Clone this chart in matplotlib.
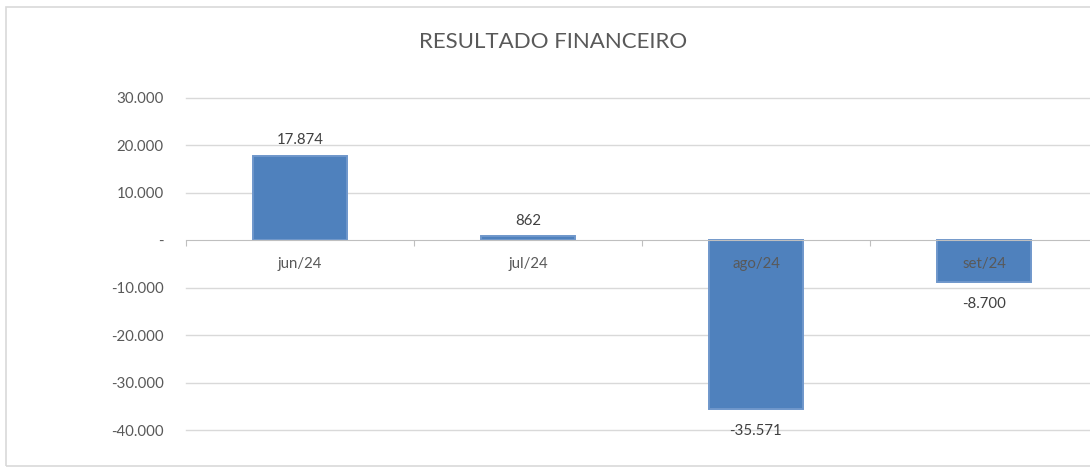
import matplotlib.pyplot as plt
from matplotlib.patches import Rectangle
import numpy as np

months = ['jun/24', 'jul/24', 'ago/24', 'set/24']
resultado = [17874, 862, -35571, -8700]
yticks = [30000, 20000, 10000, 0, -10000, -20000, -30000, -40000]

plt.rcParams['font.family'] = ['Lato', 'DejaVu Sans']

txt = '#595959'
grid = '#d9d9d9'
blue = '#4f81bd'


def br(v):
    # brazilian style: dot as thousands separator, zero as dash
    if v == 0:
        return '-'
    return f'{v:,.0f}'.replace(',', '.')


fig = plt.figure(figsize=(10.9, 4.67), dpi=100)
fig.patches.append(Rectangle((6 / 1090, 1 - 466 / 467), 1.2, 459 / 467,
                             transform=fig.transFigure, fill=False,
                             edgecolor='#d9d9d9', linewidth=1.2))
fig.text(553 / 1090, 1 - 42 / 467, 'RESULTADO FINANCEIRO', ha='center',
         va='center', fontsize=16, color=txt)

ax = fig.add_axes([186 / 1090, 1 - 430 / 467, 912 / 1090, 332 / 467])
x = np.arange(len(months))
bars = ax.bar(x, resultado, width=0.415, color=blue, edgecolor='#6f97cb',
              linewidth=1.4, zorder=2)

for t in yticks:
    if t != 0:
        ax.axhline(t, color=grid, linewidth=1, zorder=0, clip_on=False)

ax.set_xlim(-0.5, len(months) - 0.5)
ax.set_ylim(-40000, 30000)
ax.set_yticks(yticks)
ax.set_yticklabels([br(t) for t in yticks])
ax.tick_params(axis='y', length=0, pad=16, labelsize=10.8, labelcolor=txt)

for s in ['top', 'right', 'left']:
    ax.spines[s].set_visible(False)
ax.spines['bottom'].set_position(('data', 0))
ax.spines['bottom'].set_color('#bfbfbf')
ax.spines['bottom'].set_zorder(3)

# tick marks between categories, labels at the centres
ax.set_xticks(np.arange(len(months) + 1) - 0.5)
ax.set_xticklabels([])
ax.tick_params(axis='x', which='major', length=4, color='#bfbfbf')
ax.set_xticks(x, minor=True)
ax.set_xticklabels(months, minor=True)
ax.tick_params(axis='x', which='minor', length=0, pad=12, labelsize=10.8,
               labelcolor=txt)
ax.set_axisbelow(False)

pos_labels = [br(v) if v >= 0 else '' for v in resultado]
neg_labels = [br(v) if v < 0 else '' for v in resultado]
ax.bar_label(bars, labels=pos_labels, padding=6, fontsize=10.8, color='#404040')
ax.bar_label(bars, labels=neg_labels, padding=11, fontsize=10.8, color='#404040')

fig.savefig('out.png', dpi=100)
